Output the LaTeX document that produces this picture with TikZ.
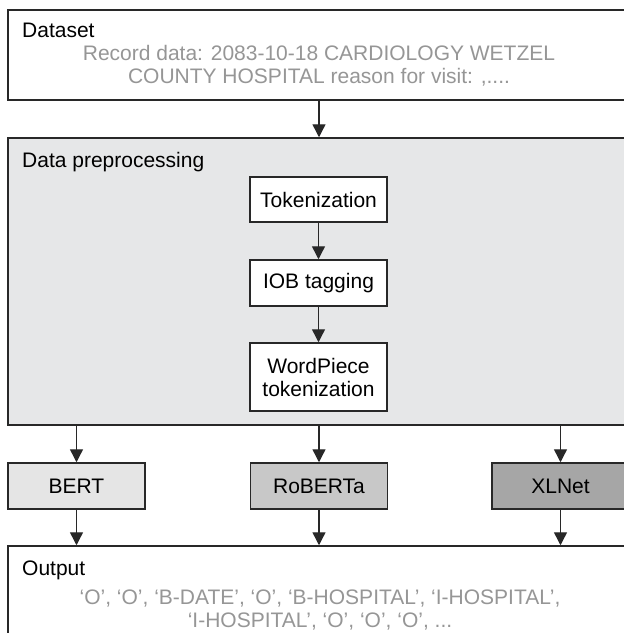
\documentclass[tikz,border=0pt]{standalone}
\usepackage{fontspec}
\setmainfont{Liberation Sans}
\usetikzlibrary{arrows.meta}
\definecolor{edgec}{RGB}{40,40,40}
\definecolor{datac}{RGB}{150,150,150}
\definecolor{prepc}{RGB}{230,231,232}
\definecolor{bertc}{RGB}{229,229,229}
\definecolor{robc}{RGB}{200,200,200}
\definecolor{xlc}{RGB}{166,166,166}
\begin{document}
\begin{tikzpicture}[x=1pt,y=-1pt,
  font=\fontsize{21}{23}\selectfont,
  box/.style={draw=edgec, line width=1.5pt, rectangle, inner sep=0pt},
  stepbox/.style={box, fill=white, minimum width=137pt, align=center},
  modelbox/.style={box, minimum width=137pt, minimum height=46pt},
  flow/.style={draw=edgec, line width=1.4pt, -{Triangle[width=13pt,length=13pt]}},
  lbl/.style={anchor=base west, inner sep=0pt},
  datatxt/.style={anchor=base, inner sep=0pt, text=datac}]
\useasboundingbox (0,0) rectangle (624,633);
\clip (0,0) rectangle (624,633);
\fill[white] (0,0) rectangle (624,633);

% Dataset
\node[box, fill=white, minimum width=622pt, minimum height=90pt] (dataset) at (319,55) {};
\node[lbl] (dtitle) at (22,37) {Dataset};
\node[datatxt] (d1) at (319,60) {Record data: 2083-10-18 CARDIOLOGY WETZEL};
\node[datatxt] (d2) at (319,83) {COUNTY HOSPITAL reason for visit: ,....};

% Preprocessing
\node[box, fill=prepc, minimum width=622pt, minimum height=287pt] (prep) at (319,281.5) {};
\node[lbl] (ptitle) at (22,167) {Data preprocessing};
\node[stepbox, minimum height=45pt] (tok) at (318.5,199.5) {Tokenization};
\node[stepbox, minimum height=46pt] (iob) at (318.5,283) {IOB tagging};
\node[stepbox, minimum height=68pt] (wp) at (318.5,377) {WordPiece\\tokenization};

% Models
\node[modelbox, fill=bertc] (bert) at (76.5,486) {BERT};
\node[modelbox, fill=robc] (rob) at (319,486) {RoBERTa};
\node[modelbox, fill=xlc] (xl) at (560.5,486) {XLNet};

% Output
\node[box, fill=white, minimum width=622pt, minimum height=114pt] (out) at (319,603) {};
\node[lbl] (otitle) at (22,575) {Output};
\node[datatxt] (o1) at (320,604) {‘O’, ‘O’, ‘B-DATE’, ‘O’, ‘B-HOSPITAL’, ‘I-HOSPITAL’,};
\node[datatxt] (o2) at (320,627) {‘I-HOSPITAL’, ‘O’, ‘O’, ‘O’, ...};

% Connectors
\draw[flow] (dataset.south) -- (prep.north);
\draw[flow] (tok.south) -- (iob.north);
\draw[flow] (iob.south) -- (wp.north);
\draw[flow] (prep.south -| bert.north) -- (bert.north);
\draw[flow] (prep.south -| rob.north) -- (rob.north);
\draw[flow] (prep.south -| xl.north) -- (xl.north);
\draw[flow] (bert.south) -- (bert.south |- out.north);
\draw[flow] (rob.south) -- (rob.south |- out.north);
\draw[flow] (xl.south) -- (xl.south |- out.north);
\end{tikzpicture}
\end{document}
